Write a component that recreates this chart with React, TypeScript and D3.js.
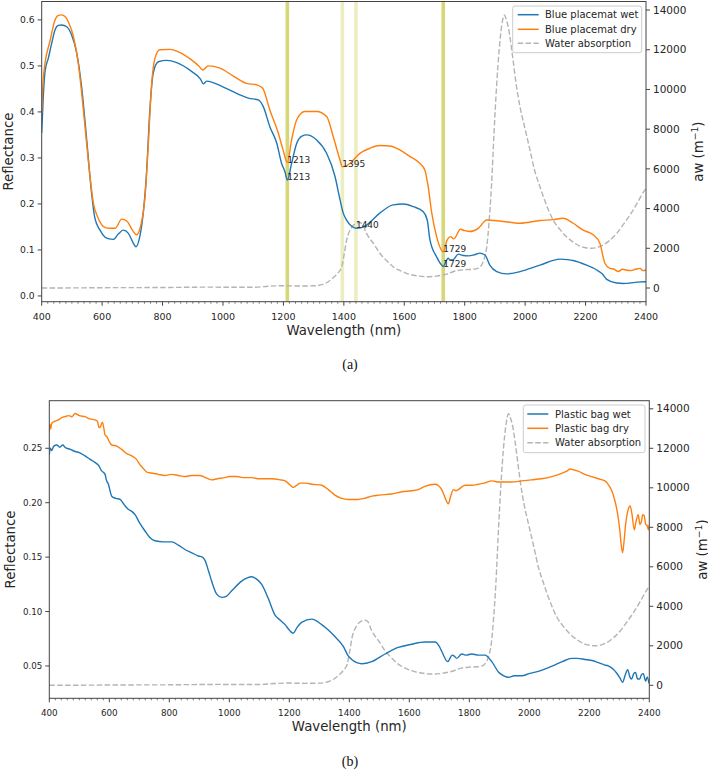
import React from 'react';
import * as d3 from 'd3';

type Pt = [number, number];

// ---------- Data (wavelength nm, value) ----------
const placematWet: Pt[] = [
  [400,0.354],[405,0.43],[411,0.488],[422,0.517],[433,0.549],[444,0.578],[455,0.588],[466,0.589],[483,0.585],[499,0.567],[516,0.528],[532,0.455],[549,0.339],[565,0.224],[576,0.169],[593,0.143],[609,0.128],[623,0.124],[637,0.123],[654,0.135],[670,0.143],[687,0.136],[703,0.115],[712,0.107],[725,0.13],[736,0.18],[747,0.267],[758,0.404],[769,0.484],[786,0.509],[814,0.512],[847,0.507],[896,0.488],[925,0.472],[935,0.461],[946,0.467],[1001,0.454],[1056,0.437],[1084,0.43],[1117,0.426],[1133,0.412],[1155,0.368],[1178,0.332],[1194,0.288],[1205,0.27],[1213,0.252],[1227,0.288],[1244,0.332],[1260,0.347],[1277,0.35],[1310,0.339],[1343,0.31],[1371,0.259],[1387,0.21],[1398,0.18],[1409,0.165],[1425,0.152],[1440,0.147],[1455,0.148],[1475,0.154],[1519,0.18],[1563,0.198],[1597,0.2],[1630,0.194],[1663,0.183],[1676,0.165],[1685,0.122],[1707,0.085],[1720,0.07],[1729,0.064],[1738,0.075],[1745,0.082],[1752,0.078],[1762,0.079],[1779,0.091],[1795,0.088],[1812,0.087],[1835,0.09],[1850,0.093],[1867,0.089],[1883,0.067],[1906,0.053],[1939,0.048],[1983,0.053],[2049,0.067],[2115,0.08],[2140,0.079],[2159,0.077],[2203,0.067],[2236,0.057],[2255,0.048],[2270,0.036],[2303,0.028],[2325,0.027],[2347,0.028],[2370,0.03],[2396,0.031],[2400,0.031]
];

const placematDry: Pt[] = [
  [400,0.397],[405,0.47],[411,0.506],[427,0.553],[444,0.6],[455,0.61],[466,0.611],[478,0.607],[488,0.596],[505,0.564],[521,0.506],[538,0.404],[554,0.296],[571,0.202],[587,0.169],[609,0.149],[625,0.147],[643,0.147],[665,0.167],[683,0.162],[701,0.142],[714,0.133],[727,0.151],[742,0.216],[753,0.332],[764,0.462],[775,0.517],[791,0.535],[825,0.536],[858,0.529],[896,0.513],[920,0.5],[933,0.491],[951,0.5],[990,0.495],[1034,0.478],[1078,0.462],[1111,0.459],[1131,0.452],[1155,0.404],[1183,0.354],[1199,0.317],[1213,0.29],[1227,0.339],[1244,0.383],[1271,0.401],[1310,0.401],[1343,0.39],[1365,0.346],[1387,0.296],[1395,0.281],[1405,0.282],[1420,0.288],[1453,0.31],[1486,0.321],[1519,0.327],[1552,0.326],[1586,0.317],[1619,0.303],[1652,0.288],[1668,0.274],[1679,0.238],[1691,0.18],[1707,0.129],[1729,0.096],[1742,0.122],[1753,0.129],[1764,0.124],[1786,0.145],[1800,0.142],[1817,0.14],[1845,0.147],[1873,0.165],[1916,0.163],[1983,0.158],[2049,0.164],[2093,0.166],[2126,0.169],[2159,0.158],[2192,0.143],[2225,0.133],[2247,0.115],[2264,0.071],[2280,0.06],[2295,0.058],[2308,0.053],[2322,0.058],[2336,0.056],[2350,0.055],[2365,0.058],[2380,0.06],[2390,0.055],[2400,0.056]
];

const bagWet: Pt[] = [
  [400,0.244],[403,0.25],[408,0.248],[415,0.252],[425,0.253],[435,0.251],[445,0.253],[452,0.251],[470,0.249],[486,0.247],[500,0.246],[519,0.243],[535,0.24],[552,0.237],[565,0.234],[575,0.229],[580,0.228],[586,0.226],[590,0.221],[597,0.217],[608,0.206],[622,0.204],[636,0.203],[650,0.198],[663,0.194],[675,0.192],[686,0.189],[700,0.182],[719,0.174],[735,0.168],[752,0.165],[780,0.164],[808,0.164],[830,0.161],[852,0.157],[875,0.154],[897,0.151],[910,0.15],[919,0.147],[930,0.138],[941,0.128],[958,0.116],[975,0.113],[990,0.114],[1008,0.119],[1041,0.128],[1060,0.131],[1075,0.132],[1090,0.13],[1108,0.125],[1130,0.112],[1152,0.097],[1170,0.092],[1186,0.088],[1200,0.083],[1213,0.08],[1225,0.085],[1241,0.09],[1275,0.093],[1308,0.088],[1330,0.083],[1352,0.077],[1380,0.068],[1397,0.059],[1408,0.056],[1425,0.053],[1441,0.052],[1475,0.054],[1519,0.061],[1563,0.067],[1608,0.07],[1652,0.072],[1686,0.072],[1700,0.068],[1708,0.0635],[1728,0.054],[1743,0.06],[1750,0.059],[1758,0.057],[1775,0.061],[1790,0.06],[1808,0.061],[1830,0.06],[1852,0.06],[1875,0.054],[1897,0.0445],[1915,0.041],[1930,0.0396],[1950,0.041],[1975,0.041],[2000,0.043],[2030,0.045],[2060,0.048],[2086,0.051],[2110,0.054],[2141,0.057],[2160,0.057],[2186,0.056],[2210,0.055],[2230,0.053],[2250,0.051],[2263,0.05],[2280,0.047],[2291,0.0435],[2302,0.039],[2311,0.035],[2320,0.042],[2328,0.0466],[2335,0.04],[2341,0.038],[2348,0.043],[2354,0.044],[2361,0.038],[2368,0.038],[2374,0.042],[2380,0.043],[2388,0.036],[2393,0.04],[2399,0.034]
];

const bagDry: Pt[] = [
  [400,0.265],[402,0.272],[405,0.268],[408,0.273],[420,0.275],[430,0.276],[440,0.278],[452,0.279],[465,0.28],[475,0.279],[486,0.282],[500,0.28],[519,0.279],[535,0.277],[552,0.276],[560,0.275],[566,0.269],[571,0.27],[577,0.274],[582,0.268],[586,0.262],[591,0.261],[600,0.256],[608,0.253],[625,0.252],[641,0.249],[658,0.245],[675,0.243],[690,0.24],[702,0.235],[715,0.231],[725,0.228],[745,0.227],[763,0.226],[785,0.225],[808,0.226],[830,0.225],[852,0.224],[875,0.225],[902,0.225],[920,0.223],[941,0.221],[960,0.222],[986,0.223],[1000,0.224],[1025,0.224],[1050,0.223],[1075,0.223],[1100,0.222],[1141,0.222],[1170,0.221],[1186,0.22],[1200,0.217],[1213,0.214],[1225,0.216],[1236,0.218],[1255,0.218],[1275,0.217],[1308,0.216],[1330,0.212],[1352,0.207],[1375,0.204],[1397,0.203],[1430,0.203],[1450,0.204],[1475,0.206],[1500,0.207],[1541,0.208],[1575,0.21],[1608,0.211],[1630,0.212],[1652,0.215],[1686,0.217],[1700,0.215],[1708,0.212],[1720,0.204],[1730,0.199],[1738,0.206],[1747,0.212],[1755,0.211],[1763,0.212],[1786,0.216],[1810,0.216],[1830,0.217],[1850,0.218],[1875,0.22],[1900,0.219],[1941,0.219],[1975,0.22],[2008,0.221],[2040,0.222],[2075,0.224],[2108,0.227],[2125,0.229],[2136,0.231],[2150,0.23],[2163,0.229],[2185,0.226],[2208,0.224],[2230,0.222],[2252,0.22],[2265,0.216],[2275,0.211],[2283,0.204],[2291,0.195],[2297,0.185],[2302,0.174],[2306,0.162],[2311,0.154],[2316,0.165],[2321,0.18],[2328,0.192],[2336,0.197],[2342,0.19],[2350,0.175],[2356,0.183],[2363,0.189],[2369,0.18],[2374,0.183],[2378,0.189],[2383,0.188],[2388,0.18],[2393,0.179],[2397,0.175],[2400,0.18]
];

const waterAbsorption: Pt[] = [
  [400,0],[500,5],[600,15],[700,20],[800,25],[900,40],[970,45],[1000,40],[1100,40],[1150,90],[1200,115],[1250,100],[1300,110],[1330,180],[1360,450],[1380,750],[1393,1070],[1400,1600],[1409,2400],[1426,3050],[1440,3250],[1450,3300],[1460,3250],[1475,2750],[1500,2200],[1519,1750],[1540,1400],[1563,1070],[1590,850],[1607,740],[1640,620],[1673,570],[1707,600],[1740,700],[1773,870],[1800,920],[1828,940],[1845,1000],[1856,1160],[1865,1500],[1873,2080],[1880,3200],[1889,5270],[1897,7800],[1906,10300],[1914,12000],[1922,13160],[1931,13750],[1938,13500],[1944,13160],[1952,12400],[1960,11480],[1970,10300],[1983,9130],[2000,8000],[2016,6950],[2030,6000],[2049,5100],[2070,4200],[2093,3420],[2115,2950],[2137,2580],[2160,2300],[2181,2110],[2200,2030],[2219,2000],[2240,2050],[2258,2165],[2280,2400],[2303,2750],[2325,3200],[2347,3680],[2370,4250],[2396,4930],[2400,5000]
];

const xTicks = [400, 600, 800, 1000, 1200, 1400, 1600, 1800, 2000, 2200, 2400];
const awTicks = [0, 2000, 4000, 6000, 8000, 10000, 12000, 14000];
const reflTicksA = [0.0, 0.1, 0.2, 0.3, 0.4, 0.5, 0.6];
const reflTicksB = [0.05, 0.10, 0.15, 0.20, 0.25];

const bandNm = [1213, 1395, 1440, 1729];
const bandStrong = [true, false, false, true];
const annotNm = [1213, 1213, 1395, 1440, 1729, 1729];
const annotSeries = ['dry', 'wet', 'dry', 'wet', 'dry', 'wet'];

const legendA = ['Blue placemat wet', 'Blue placemat dry', 'Water absorption'];
const legendB = ['Plastic bag wet', 'Plastic bag dry', 'Water absorption'];

// ---------- Styles ----------
const FONT = "'DejaVu Sans', sans-serif";
const BLUE = '#1f77b4';
const ORANGE = '#ff7f0e';
const GREY = '#b4b4b4';
const SPINE = '#444';
const TXT = '#262626';

function valueAt(data: Pt[], nm: number): number {
  const i = d3.bisector((d: Pt) => d[0]).left(data, nm);
  if (i <= 0) return data[0][1];
  if (i >= data.length) return data[data.length - 1][1];
  const a = data[i - 1], b = data[i];
  if (b[0] === nm) return b[1];
  const t = (nm - a[0]) / (b[0] - a[0]);
  return a[1] + t * (b[1] - a[1]);
}

type PanelProps = {
  left: number; right: number; top: number; bottom: number;
  reflDomain: [number, number]; awDomain: [number, number];
  reflTicks: number[]; reflFmt: string;
  wet: Pt[]; dry: Pt[]; legend: string[];
  legendBox: { x: number; y: number; w: number; h: number; lineX: number; textX: number; rows: number[] };
  fsX: number; fsL: number; fsR: number;
  leftLabelX: number; rightLabelX: number;
  xLabelY: number; xTickY: number;
  caption: string; captionY: number;
  bands: boolean;
};

function Panel(p: PanelProps) {
  const x = d3.scaleLinear().domain([400, 2400]).range([p.left, p.right]);
  const y = d3.scaleLinear().domain(p.reflDomain).range([p.bottom, p.top]);
  const yw = d3.scaleLinear().domain(p.awDomain).range([p.bottom, p.top]);
  const line = d3.line<Pt>().x(d => x(d[0])).y(d => y(d[1])).curve(d3.curveMonotoneX);
  const lineW = d3.line<Pt>().x(d => x(d[0])).y(d => yw(d[1])).curve(d3.curveMonotoneX);
  const minor = d3.range(400, 2401, 20).filter(v => v % 200 !== 0);
  const fmt = d3.format(p.reflFmt);
  const midY = (p.top + p.bottom) / 2;
  const clipId = 'clip' + p.caption.replace(/[()]/g, '');
  const lb = p.legendBox;
  return (
    <g>
      <defs>
        <clipPath id={clipId}>
          <rect x={p.left} y={p.top} width={p.right - p.left} height={p.bottom - p.top} />
        </clipPath>
      </defs>
      <g clipPath={`url(#${clipId})`}>
        {p.bands && bandNm.map((nm, i) => (
          <rect key={'b' + i} x={x(nm) - 1.8} y={p.top} width={3.6} height={p.bottom - p.top}
            fill="#bcbd22" opacity={bandStrong[i] ? 0.6 : 0.28} />
        ))}
        <path d={lineW(waterAbsorption) || ''} fill="none" stroke={GREY} strokeWidth={1.4} strokeDasharray="5.5,2.4" />
        <path d={line(p.wet) || ''} fill="none" stroke={BLUE} strokeWidth={1.4} />
        <path d={line(p.dry) || ''} fill="none" stroke={ORANGE} strokeWidth={1.4} />
      </g>
      {p.bands && annotNm.map((nm, i) => {
        const v = valueAt(annotSeries[i] === 'wet' ? p.wet : p.dry, nm);
        return (
          <text key={'a' + i} x={x(nm)} y={y(v)} fontSize={9} fontFamily={FONT} fill={TXT}>{nm}</text>
        );
      })}
      {/* frame */}
      <rect x={p.left} y={p.top} width={p.right - p.left} height={p.bottom - p.top} fill="none" stroke={SPINE} strokeWidth={1} />
      {/* x ticks */}
      {xTicks.map(t => (
        <g key={'x' + t}>
          <line x1={x(t)} x2={x(t)} y1={p.bottom} y2={p.bottom + 4} stroke={SPINE} />
          <text x={x(t)} y={p.xTickY} textAnchor="middle" fontSize={p.fsX} fontFamily={FONT} fill={TXT}>{t}</text>
        </g>
      ))}
      {minor.map(t => (
        <line key={'m' + t} x1={x(t)} x2={x(t)} y1={p.bottom} y2={p.bottom + 2} stroke={SPINE} strokeWidth={0.7} />
      ))}
      {/* left ticks */}
      {p.reflTicks.map(t => (
        <g key={'l' + t}>
          <line x1={p.left - 4} x2={p.left} y1={y(t)} y2={y(t)} stroke={SPINE} />
          <text x={p.left - 7} y={y(t)} dy="0.35em" textAnchor="end" fontSize={p.fsL} fontFamily={FONT} fill={TXT}>{fmt(t)}</text>
        </g>
      ))}
      {/* right ticks */}
      {awTicks.map(t => (
        <g key={'r' + t}>
          <line x1={p.right} x2={p.right + 4} y1={yw(t)} y2={yw(t)} stroke={SPINE} />
          <text x={p.right + 7} y={yw(t)} dy="0.35em" textAnchor="start" fontSize={p.fsR} fontFamily={FONT} fill={TXT}>{t}</text>
        </g>
      ))}
      {/* axis labels */}
      <text x={(p.left + p.right) / 2} y={p.xLabelY} textAnchor="middle" fontSize={13.3} fontFamily={FONT} fill={TXT}>Wavelength (nm)</text>
      <text transform={`translate(${p.leftLabelX},${midY}) rotate(-90)`} textAnchor="middle" fontSize={13.3} fontFamily={FONT} fill={TXT}>Reflectance</text>
      <text transform={`translate(${p.rightLabelX},${midY}) rotate(-90)`} textAnchor="middle" fontSize={13.3} fontFamily={FONT} fill={TXT}>
        aw (m<tspan fontSize={9.3} dy={-5}>−1</tspan><tspan dy={5}>)</tspan>
      </text>
      {/* legend */}
      <rect x={lb.x} y={lb.y} width={lb.w} height={lb.h} rx={2.5} fill="white" fillOpacity={0.85} stroke="#cccccc" strokeWidth={1} />
      {p.legend.map((lab, i) => (
        <g key={'lg' + i}>
          <line x1={lb.lineX} x2={lb.lineX + 21} y1={lb.rows[i]} y2={lb.rows[i]}
            stroke={i === 0 ? BLUE : i === 1 ? ORANGE : GREY} strokeWidth={1.5}
            strokeDasharray={i === 2 ? '5.5,2.4' : undefined} />
          <text x={lb.textX} y={lb.rows[i]} dy="0.35em" fontSize={10} fontFamily={FONT} fill={TXT}>{lab}</text>
        </g>
      ))}
      {/* caption */}
      <text x={350} y={p.captionY} textAnchor="middle" fontSize={14} fontFamily="'Liberation Serif', 'Times New Roman', serif" fill="#111">{p.caption}</text>
    </g>
  );
}

export default function App() {
  return (
    <svg width={708} height={770} style={{ position: 'absolute', left: 0, top: 0, background: 'white' }}>
      <rect x={0} y={0} width={708} height={770} fill="white" />
      <Panel
        left={41.7} right={646} top={1.5} bottom={301.7}
        reflDomain={[-0.0125, 0.64]} awDomain={[-690, 14430]}
        reflTicks={reflTicksA} reflFmt=".1f"
        wet={placematWet} dry={placematDry} legend={legendA}
        legendBox={{ x: 512.7, y: 6, w: 129, h: 46.7, lineX: 517.7, textX: 545, rows: [14.7, 29.3, 43.3] }}
        fsX={9.5} fsL={9.2} fsR={10.5}
        leftLabelX={12.7} rightLabelX={703}
        xLabelY={335} xTickY={319.5}
        caption="(a)" captionY={369}
        bands={true}
      />
      <Panel
        left={49.3} right={649.3} top={400.7} bottom={698.3}
        reflDomain={[0.0203, 0.2937]} awDomain={[-658, 14410]}
        reflTicks={reflTicksB} reflFmt=".2f"
        wet={bagWet} dry={bagDry} legend={legendB}
        legendBox={{ x: 523.3, y: 405, w: 121.7, h: 47.7, lineX: 527.3, textX: 555, rows: [414, 428.3, 442.7] }}
        fsX={8.8} fsL={8.7} fsR={10.5}
        leftLabelX={15} rightLabelX={706.5}
        xLabelY={731} xTickY={716}
        caption="(b)" captionY={766}
        bands={false}
      />
    </svg>
  );
}
